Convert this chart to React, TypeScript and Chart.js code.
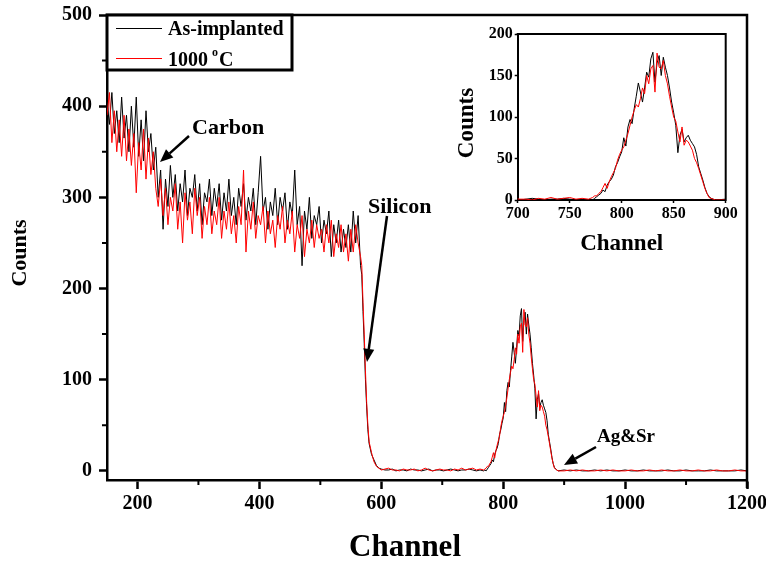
import React, { useEffect, useRef } from 'react';
import { Chart, registerables } from 'chart.js';

Chart.register(...registerables);

const FONT = "'Liberation Serif', 'Times New Roman', serif";

// ---- Data ----
// Bulk region: channels 150..566, every 4 channels
const bulkStart = 150;
const bulkStep = 4;
const bulkAsImplanted = [
  405, 380, 415, 370, 395, 360, 410, 365, 390, 350,
  400, 355, 410, 345, 385, 340, 395, 350, 370, 330,
  355, 300, 330, 265, 320, 290, 335, 300, 325, 285,
  315, 295, 330, 280, 310, 300, 325, 285, 315, 270,
  305, 295, 320, 280, 310, 290, 315, 275, 305, 285,
  320, 280, 300, 270, 310, 290, 315, 275, 300, 285,
  310, 270, 305, 345, 285, 300, 265, 295, 280, 310,
  270, 300, 285, 305, 265, 295, 280, 330, 270, 290,
  225, 285, 265, 300, 255, 280, 270, 290, 250, 275,
  260, 285, 235, 270, 250, 275, 240, 265, 245, 270,
  240, 285, 250, 280, 225,
];
const bulkAnnealed = [
  390, 415, 360, 395, 350, 385, 345, 390, 340, 375,
  335, 370, 305, 360, 330, 375, 320, 365, 325, 350,
  310, 290, 320, 280, 310, 270, 300, 285, 315, 265,
  295, 250, 305, 275, 295, 260, 310, 280, 300, 255,
  290, 270, 300, 260, 285, 270, 300, 255, 285, 265,
  295, 260, 280, 250, 290, 270, 330, 240, 285, 265,
  295, 255, 280, 270, 290, 250, 285, 260, 275, 245,
  280, 265, 290, 250, 275, 260, 285, 240, 270, 255,
  280, 235, 265, 250, 275, 245, 270, 255, 265, 240,
  270, 250, 275, 235, 260, 245, 270, 240, 260, 230,
  265, 240, 270, 250, 235,
];

// Silicon edge
const edgeChannels = [568, 570, 572, 574, 576, 578, 580, 584, 588, 592, 596];
const edgeAsImplanted = [215, 175, 140, 100, 70, 45, 30, 18, 12, 6, 3];
const edgeAnnealed = [225, 185, 150, 110, 75, 50, 32, 20, 10, 5, 3];

// Gap region: channels 600..762, every 6
const gapStart = 600;
const gapStep = 6;
const gapAsImplanted = [2, 1, 1, 2, 0, 1, 1, 0, 2, 1, 1, 0, 1, 2, 0, 1, 1, 0, 1, 2, 1, 0, 1, 1, 2, 1, 0, 1];
const gapAnnealed = [1, 2, 3, 1, 1, 0, 2, 1, 1, 2, 0, 1, 3, 1, 0, 1, 2, 1, 1, 0, 2, 1, 3, 1, 2, 3, 1, 2];

// Ag&Sr peak: channels 768..890, every 2
const peakStart = 768;
const peakStep = 2;
const peakAsImplanted = [
  0, 1, 0, 2, 4, 6, 8, 12, 10, 18,
  22, 25, 30, 40, 45, 52, 58, 75, 65, 88,
  97, 92, 110, 125, 141, 130, 118, 135, 154, 148,
  170, 178, 142, 165, 174, 150, 172, 160, 150, 135,
  118, 105, 90, 57, 78, 85, 70, 75, 78, 72,
  68, 64, 55, 40, 32, 24, 15, 8, 4, 2,
  1, 0,
];
const peakAnnealed = [
  1, 2, 3, 5, 5, 8, 10, 15, 20, 14,
  22, 28, 33, 38, 48, 55, 60, 64, 72, 80,
  90, 100, 108, 115, 112, 122, 135, 128, 150, 140,
  158, 162, 130, 177, 160, 158, 168, 150, 140, 125,
  112, 100, 95, 82, 70, 88, 66, 72, 70, 65,
  60, 50, 45, 38, 30, 22, 14, 8, 3, 2,
  1, 0,
];

// Tail: channels 900..1200, every 10
const tailStart = 900;
const tailStep = 10;
const tailAsImplanted = [1, 0, 1, 0, 0, 1, 0, 1, 0, 0, 1, 0, 0, 1, 0, 0, 0, 1, 0, 0, 1, 0, 0, 0, 1, 0, 0, 0, 0, 1, 0];
const tailAnnealed = [0, 1, 0, 1, 0, 0, 1, 0, 1, 0, 0, 1, 0, 0, 1, 0, 1, 0, 0, 1, 0, 0, 1, 0, 0, 1, 0, 0, 1, 0, 0];

// Axis ticks
const mainXTicks = [200, 400, 600, 800, 1000, 1200];
const mainXMinor = [300, 500, 700, 900, 1100];
const mainYTicks = [0, 100, 200, 300, 400, 500];
const mainYMinor = [50, 150, 250, 350, 450];
const insetXTicks = [700, 750, 800, 850, 900];
const insetYTicks = [0, 50, 100, 150, 200];

const seriesNames = ['As-implanted', '1000 °C'];
const xTitle = 'Channel';
const yTitle = 'Counts';

function seg(start: number, step: number, values: number[]) {
  return values.map((v, i) => ({ x: start + i * step, y: v }));
}
function build(bulk: number[], edge: number[], gap: number[], peak: number[], tail: number[]) {
  return [
    ...seg(bulkStart, bulkStep, bulk),
    ...edge.map((v, i) => ({ x: edgeChannels[i], y: v })),
    ...seg(gapStart, gapStep, gap),
    ...seg(peakStart, peakStep, peak),
    ...seg(tailStart, tailStep, tail),
  ];
}

const asImplanted = build(bulkAsImplanted, edgeAsImplanted, gapAsImplanted, peakAsImplanted, tailAsImplanted);
const annealed = build(bulkAnnealed, edgeAnnealed, gapAnnealed, peakAnnealed, tailAnnealed);

function bold(size: number) {
  return { family: FONT, size, weight: 'bold' as const, lineHeight: 1 };
}

function arrow(ctx: CanvasRenderingContext2D, x1: number, y1: number, x2: number, y2: number) {
  const ang = Math.atan2(y2 - y1, x2 - x1);
  const len = 13;
  const hw = 5.5;
  const bx = x2 - len * Math.cos(ang);
  const by = y2 - len * Math.sin(ang);
  ctx.beginPath();
  ctx.lineWidth = 2.5;
  ctx.moveTo(x1, y1);
  ctx.lineTo(bx, by);
  ctx.stroke();
  ctx.beginPath();
  ctx.moveTo(x2, y2);
  ctx.lineTo(bx + hw * Math.sin(ang), by - hw * Math.cos(ang));
  ctx.lineTo(bx - hw * Math.sin(ang), by + hw * Math.cos(ang));
  ctx.closePath();
  ctx.fill();
}

function rotatedText(ctx: CanvasRenderingContext2D, text: string, x: number, y: number) {
  ctx.save();
  ctx.translate(x, y);
  ctx.rotate(-Math.PI / 2);
  ctx.textAlign = 'center';
  ctx.textBaseline = 'middle';
  ctx.fillText(text, 0, 0);
  ctx.restore();
}

const mainDecor = {
  id: 'mainDecor',
  afterDraw(chart: any) {
    const { ctx, chartArea } = chart;
    const { left, right, top, bottom } = chartArea;
    const xs = chart.scales.x;
    const ys = chart.scales.y;
    ctx.save();
    ctx.strokeStyle = '#000';
    ctx.fillStyle = '#000';
    // frame top/right
    ctx.lineWidth = 2.5;
    ctx.beginPath();
    ctx.moveTo(left - 1, top);
    ctx.lineTo(right, top);
    ctx.lineTo(right, bottom + 8);
    ctx.stroke();
    // minor ticks
    ctx.lineWidth = 2;
    ctx.beginPath();
    for (const v of mainXMinor) {
      const px = xs.getPixelForValue(v);
      ctx.moveTo(px, bottom);
      ctx.lineTo(px, bottom + 5);
    }
    for (const v of mainYMinor) {
      const py = ys.getPixelForValue(v);
      ctx.moveTo(left, py);
      ctx.lineTo(left - 5, py);
    }
    ctx.stroke();

    // axis titles
    ctx.fillStyle = '#000';
    ctx.font = `bold 31px ${FONT}`;
    ctx.textAlign = 'center';
    ctx.textBaseline = 'middle';
    ctx.fillText(xTitle, 405, 548);
    ctx.font = `bold 22px ${FONT}`;
    rotatedText(ctx, yTitle, 20, 253);

    // legend
    const lx0 = left, ly0 = top, lx1 = 292, ly1 = 70;
    ctx.fillStyle = '#fff';
    ctx.fillRect(lx0, ly0, lx1 - lx0, ly1 - ly0);
    ctx.lineWidth = 3;
    ctx.strokeStyle = '#000';
    ctx.strokeRect(lx0, ly0, lx1 - lx0, ly1 - ly0);
    ctx.lineWidth = 1;
    ctx.beginPath();
    ctx.strokeStyle = '#000';
    ctx.moveTo(116, 28.5);
    ctx.lineTo(162, 28.5);
    ctx.stroke();
    ctx.beginPath();
    ctx.strokeStyle = '#ff0000';
    ctx.moveTo(116, 58.5);
    ctx.lineTo(162, 58.5);
    ctx.stroke();
    ctx.fillStyle = '#000';
    ctx.textBaseline = 'alphabetic';
    ctx.textAlign = 'left';
    ctx.font = `bold 20px ${FONT}`;
    ctx.fillText(seriesNames[0], 168, 35);
    const [num, unit] = seriesNames[1].split(' ');
    ctx.fillText(num, 168, 66);
    const w = ctx.measureText(num + ' ').width;
    ctx.font = `bold 12px ${FONT}`;
    ctx.fillText('o', 168 + w - 1, 56);
    const wo = ctx.measureText('o').width;
    ctx.font = `bold 20px ${FONT}`;
    ctx.fillText(unit.replace('°', ''), 168 + w + wo, 66);

    // annotations
    ctx.strokeStyle = '#000';
    ctx.fillStyle = '#000';
    ctx.font = `bold 22px ${FONT}`;
    ctx.fillText('Carbon', 192, 134);
    arrow(ctx, 189, 136, 160, 162);
    ctx.fillText('Silicon', 368, 213);
    arrow(ctx, 387, 216, 367, 362);
    ctx.font = `bold 19px ${FONT}`;
    ctx.fillText('Ag&Sr', 597, 442);
    arrow(ctx, 596, 447, 564, 465);
    ctx.restore();
  },
};

const insetDecor = {
  id: 'insetDecor',
  afterDraw(chart: any) {
    const { ctx, chartArea } = chart;
    const { left, right, top, bottom } = chartArea;
    ctx.save();
    ctx.strokeStyle = '#000';
    ctx.lineWidth = 2;
    ctx.beginPath();
    ctx.moveTo(left - 1, top);
    ctx.lineTo(right, top);
    ctx.lineTo(right, bottom + 1);
    ctx.stroke();
    ctx.fillStyle = '#000';
    ctx.font = `bold 23px ${FONT}`;
    rotatedText(ctx, yTitle, 27, 103);
    ctx.restore();
  },
};

function ticksFrom(list: number[]) {
  return (scale: any) => {
    scale.ticks = list.map((v) => ({ value: v }));
  };
}
const plainLabel = (v: any) => String(v);

export default function App() {
  const mainRef = useRef<HTMLCanvasElement>(null);
  const insetRef = useRef<HTMLCanvasElement>(null);

  useEffect(() => {
    const datasets = (width: number) => [
      {
        label: seriesNames[1],
        data: annealed,
        borderColor: '#ff0000',
        borderWidth: width,
        pointRadius: 0,
        tension: 0,
        fill: false,
      },
      {
        label: seriesNames[0],
        data: asImplanted,
        borderColor: '#000000',
        borderWidth: width,
        pointRadius: 0,
        tension: 0,
        fill: false,
      },
    ];

    const main = new Chart(mainRef.current as HTMLCanvasElement, {
      type: 'line',
      data: { datasets: datasets(1) as any },
      options: {
        responsive: false,
        animation: false,
        events: [],
        layout: { padding: { top: 15, right: 19, left: 0, bottom: 0 } },
        plugins: { legend: { display: false }, tooltip: { enabled: false } },
        scales: {
          x: {
            type: 'linear',
            min: 150,
            max: 1200,
            afterBuildTicks: ticksFrom(mainXTicks),
            afterFit: (s: any) => {
              s.height = 82;
              s.paddingLeft = 0;
              s.paddingRight = 0;
            },
            grid: { drawOnChartArea: false, drawTicks: true, tickLength: 9, tickWidth: 2.5, tickColor: '#000' },
            border: { display: true, color: '#000', width: 2.5 },
            ticks: { color: '#000', font: bold(20), padding: 5, maxRotation: 0, autoSkip: false, callback: plainLabel },
            title: { display: false },
          },
          y: {
            type: 'linear',
            min: -10,
            max: 500,
            afterBuildTicks: ticksFrom(mainYTicks),
            afterFit: (s: any) => {
              s.width = 107;
              s.paddingTop = 0;
              s.paddingBottom = 0;
            },
            grid: { drawOnChartArea: false, drawTicks: true, tickLength: 8, tickWidth: 2.5, tickColor: '#000' },
            border: { display: true, color: '#000', width: 2.5 },
            ticks: { color: '#000', font: bold(20), padding: 7, autoSkip: false, callback: plainLabel },
            title: { display: false },
          },
        },
      },
      plugins: [mainDecor],
    } as any);

    const inset = new Chart(insetRef.current as HTMLCanvasElement, {
      type: 'line',
      data: { datasets: datasets(1) as any },
      options: {
        responsive: false,
        animation: false,
        events: [],
        layout: { padding: { top: 14, right: 14.3, left: 0, bottom: 0 } },
        plugins: { legend: { display: false }, tooltip: { enabled: false } },
        scales: {
          x: {
            type: 'linear',
            min: 700,
            max: 900,
            afterBuildTicks: ticksFrom(insetXTicks),
            afterFit: (s: any) => {
              s.height = 60;
              s.paddingLeft = 0;
              s.paddingRight = 0;
            },
            grid: { drawOnChartArea: false, drawTicks: true, tickLength: 3, tickWidth: 1.5, tickColor: '#000' },
            border: { display: true, color: '#000', width: 2 },
            ticks: { color: '#000', font: bold(16), padding: 3, maxRotation: 0, autoSkip: false, callback: plainLabel },
            title: { display: true, text: xTitle, color: '#000', font: bold(23), padding: { top: 0, bottom: 4.5 } },
          },
          y: {
            type: 'linear',
            min: 0,
            max: 200,
            afterBuildTicks: ticksFrom(insetYTicks),
            afterFit: (s: any) => {
              s.width = 77.7;
              s.paddingTop = 0;
              s.paddingBottom = 0;
            },
            grid: { drawOnChartArea: false, drawTicks: true, tickLength: 3, tickWidth: 1.5, tickColor: '#000' },
            border: { display: true, color: '#000', width: 2 },
            ticks: { color: '#000', font: bold(16), padding: 2, autoSkip: false, callback: plainLabel },
            title: { display: false },
          },
        },
      },
      plugins: [insetDecor],
    } as any);

    return () => {
      main.destroy();
      inset.destroy();
    };
  }, []);

  return (
    <div style={{ position: 'absolute', left: 0, top: 0, width: 766, height: 562, background: '#fff' }}>
      <canvas
        ref={mainRef}
        width={766}
        height={562}
        style={{ position: 'absolute', left: 0, top: 0, width: 766, height: 562 }}
      />
      <canvas
        ref={insetRef}
        width={300}
        height={240}
        style={{ position: 'absolute', left: 440, top: 20, width: 300, height: 240 }}
      />
    </div>
  );
}
